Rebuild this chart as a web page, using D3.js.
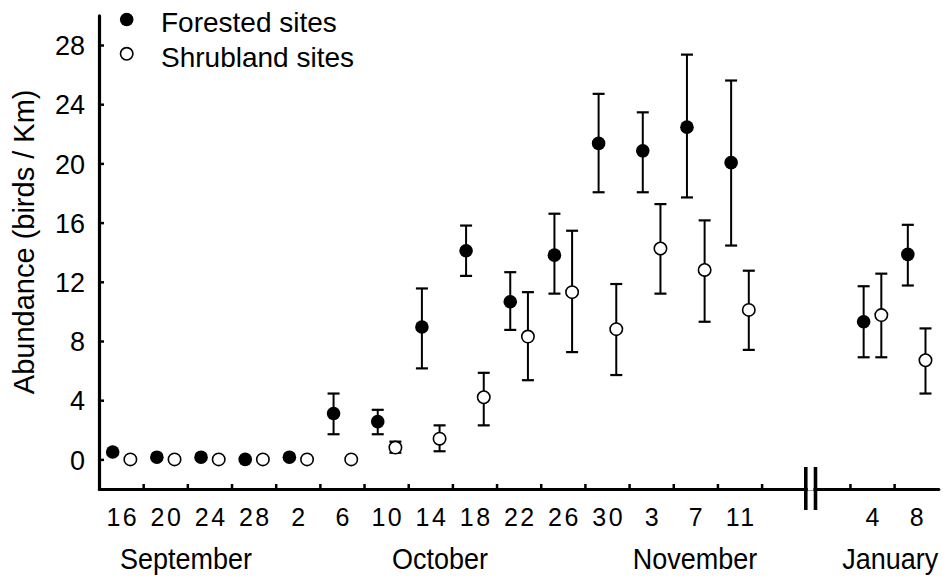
<!DOCTYPE html>
<html>
<head>
<meta charset="utf-8">
<script src="https://cdn.jsdelivr.net/npm/d3@7"></script>
<style>
  html, body { margin: 0; padding: 0; background: #fff; }
  svg { display: block; font-family: "Liberation Sans", Arial, Helvetica, sans-serif; }
</style>
</head>
<body>
<svg id="chart" width="943" height="578"></svg>
<script>
// Survey dates (day of month) and the month each belongs to
const dayLabels = ["16","20","24","28","2","6","10","14","18","22","26","30","3","7","11","4","8"];
const monthLabels = ["September","October","November","January"];

// Forested sites: mean abundance and error-bar limits (birds / km)
const forestMean = [0.5, 0.15, 0.15, 0, 0.15, 3.1, 2.55, 8.95, 14.1, 10.65, 13.8, 21.35, 20.85, 22.45, 20.05, 9.3, 13.85];
const forestLow  = [null, null, null, null, null, 1.7, 1.7, 6.15, 12.4, 8.75, 11.2, 18.05, 18.05, 17.7, 14.45, 6.9, 11.75];
const forestHigh = [null, null, null, null, null, 4.45, 3.35, 11.55, 15.8, 12.65, 16.6, 24.7, 23.45, 27.35, 25.6, 11.7, 15.85];

// Shrubland sites: mean abundance and error-bar limits (birds / km)
const shrubMean = [0, 0, 0, 0, 0, 0, 0.8, 1.4, 4.2, 8.3, 11.3, 8.8, 14.25, 12.8, 10.1, 9.75, 6.7];
const shrubLow  = [null, null, null, null, null, null, 0.45, 0.55, 2.3, 5.35, 7.25, 5.7, 11.2, 9.3, 7.4, 6.9, 4.45];
const shrubHigh = [null, null, null, null, null, null, 1.2, 2.3, 5.85, 11.3, 15.45, 11.85, 17.25, 16.15, 12.75, 12.55, 8.85];

const yTicks = [0, 4, 8, 12, 16, 20, 24, 28];

const svg = d3.select("#chart");

// Axis slots: 15 autumn surveys, a gap holding the axis break, then 2 January surveys
const nAutumn = 15;
const slot = i => (i < nAutumn ? i + 0.5 : i + 2.5);

const x = d3.scaleLinear().domain([0, 19]).range([99, 938.3]);
const y = d3.scaleLinear().domain([-2, 30]).range([489, 15.4]);

const fOff = -0.19, sOff = 0.21;

// ---- Y axis ----
const yAxis = svg.append("g")
  .attr("transform", `translate(${x(0)},0)`)
  .call(d3.axisLeft(y).tickValues(yTicks).tickSizeInner(-5).tickSizeOuter(0).tickPadding(14).tickFormat(d3.format("d")));
yAxis.select(".domain").attr("stroke", "#000").attr("stroke-width", 3.2).attr("stroke-linecap", "round");
yAxis.selectAll(".tick line").attr("stroke", "#000").attr("stroke-width", 2.5);
yAxis.selectAll(".tick text")
  .attr("fill", "#000")
  .attr("font-size", 27)
  .attr("font-family", "'Liberation Sans', Arial, sans-serif")
  .attr("dy", "0.36em");

// ---- X axis (tick marks only) ----
const xTickVals = d3.range(1, 16).concat([17, 18]);
const xAxis = svg.append("g")
  .attr("transform", `translate(0,${y(-2)})`)
  .call(d3.axisBottom(x).tickValues(xTickVals).tickSizeInner(-5).tickSizeOuter(0).tickFormat(""));
xAxis.select(".domain").attr("stroke", "#000").attr("stroke-width", 3.2).attr("stroke-linecap", "round");
xAxis.selectAll(".tick line").attr("stroke", "#000").attr("stroke-width", 2.5);

// Day labels centred in each slot
const dayAxis = svg.append("g")
  .attr("transform", `translate(0,${y(-2)})`)
  .call(d3.axisBottom(x).tickValues(dayLabels.map((d, i) => slot(i))).tickSize(0).tickPadding(0)
    .tickFormat((d, i) => dayLabels[i]));
dayAxis.select(".domain").remove();
dayAxis.selectAll(".tick text")
  .attr("fill", "#000")
  .attr("font-size", 25)
  .attr("font-family", "'Liberation Sans', Arial, sans-serif")
  .attr("letter-spacing", "2.5px")
  .attr("dx", "1.2px")
  .attr("y", 37)
  .attr("dy", 0);

// Axis break marks
const breakPos = [16.0, 16.22];
svg.append("rect")
  .attr("x", x(breakPos[0]) + 2).attr("y", y(-2) - 1.6)
  .attr("width", x(breakPos[1]) - x(breakPos[0]) - 4).attr("height", 3.2)
  .attr("fill", "#fff");
svg.selectAll(".brk").data(breakPos).enter().append("line")
  .attr("class", "brk")
  .attr("x1", d => x(d)).attr("x2", d => x(d))
  .attr("y1", y(-2) - 22).attr("y2", y(-2) + 21)
  .attr("stroke", "#000").attr("stroke-width", 3.6);

// Month labels, centred under their runs of survey dates
const monthCenters = [1.97, 7.72, 13.49, 17.91];
svg.selectAll(".month").data(monthLabels).enter().append("text")
  .attr("class", "month")
  .attr("transform", (d, i) => `translate(${x(monthCenters[i])},569) scale(1,1.08)`)
  .attr("text-anchor", "middle")
  .attr("font-size", 27)
  .attr("fill", "#000")
  .text(d => d);

// Y axis title
svg.append("text")
  .attr("transform", `translate(34,${y(14.7)}) rotate(-90)`)
  .attr("text-anchor", "middle")
  .attr("font-size", 29)
  .attr("fill", "#000")
  .text("Abundance (birds / Km)");

// ---- Data ----
function drawSeries(mean, low, high, off, filled) {
  const rows = mean.map((m, i) => ({ i, m, lo: low[i], hi: high[i] }));
  const g = svg.append("g");
  const bars = rows.filter(r => r.lo != null);
  const cx = r => x(slot(r.i) + off);
  g.selectAll(".eb").data(bars).enter().append("line")
    .attr("x1", cx).attr("x2", cx)
    .attr("y1", r => y(r.lo)).attr("y2", r => y(r.hi))
    .attr("stroke", "#000").attr("stroke-width", 2);
  ["lo", "hi"].forEach(k => {
    g.selectAll(".cap" + k).data(bars).enter().append("line")
      .attr("x1", r => cx(r) - 6).attr("x2", r => cx(r) + 6)
      .attr("y1", r => y(r[k])).attr("y2", r => y(r[k]))
      .attr("stroke", "#000").attr("stroke-width", 2.2);
  });
  g.selectAll(".pt").data(rows).enter().append("circle")
    .attr("cx", cx).attr("cy", r => y(r.m))
    .attr("r", filled ? 6.8 : 6.2)
    .attr("fill", filled ? "#000" : "#fff")
    .attr("stroke", "#000").attr("stroke-width", filled ? 0 : 1.6);
}
drawSeries(shrubMean, shrubLow, shrubHigh, sOff, false);
drawSeries(forestMean, forestLow, forestHigh, fOff, true);

// ---- Legend ----
const legend = svg.append("g");
const legendItems = [
  { label: "Forested sites", filled: true },
  { label: "Shrubland sites", filled: false }
];
legendItems.forEach((d, i) => {
  const cy = 19.5 + i * 34.3;
  legend.append("circle")
    .attr("cx", 126.7).attr("cy", cy)
    .attr("r", d.filled ? 6.8 : 6.2)
    .attr("fill", d.filled ? "#000" : "#fff")
    .attr("stroke", "#000").attr("stroke-width", d.filled ? 0 : 1.6);
  legend.append("text")
    .attr("x", 161).attr("y", cy + 12.8)
    .attr("font-size", 28)
    .attr("fill", "#000")
    .text(d.label);
});
</script>
</body>
</html>
